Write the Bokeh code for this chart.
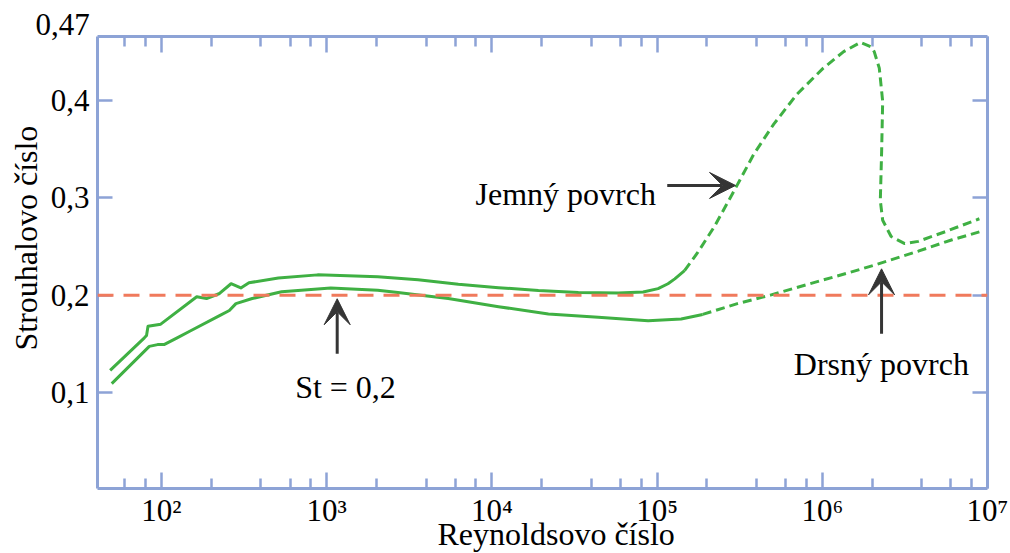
import math
from bokeh.plotting import figure
from bokeh.models import (FixedTicker, LogAxis, LinearAxis, Span, Label, Arrow,
                          VeeHead, Range1d, Title)
from bokeh.embed import file_html
from bokeh.resources import INLINE

# ---------------- data ----------------
# Smooth surface (Jemný povrch) – solid part
smooth_solid_re = [48.9, 78.8, 81.2, 82.9, 99.0, 163.5, 187.4, 224.7, 263.7, 302.2,
                   338.5, 510, 881, 2038, 3573, 6266, 10975, 19130, 33370, 58160,
                   82330, 101400, 116400, 128000, 146600]
smooth_solid_st = [0.1228, 0.1562, 0.1586, 0.1681, 0.1702, 0.1983, 0.1965, 0.2017, 0.2117, 0.2074,
                   0.2127, 0.2175, 0.2208, 0.2188, 0.2157, 0.2112, 0.2077, 0.2047, 0.2027, 0.2022,
                   0.2032, 0.2067, 0.2117, 0.2167, 0.2251]
# Smooth surface – dashed part
smooth_dash_re = [146600, 176200, 221900, 292500, 385600, 508300, 701000, 1.014e6, 1.347e6,
                  1.705e6, 1.965e6, 2.062e6, 2.213e6, 2.320e6, 2.287e6, 2.245e6, 2.320e6,
                  2.610e6, 3.155e6, 3.811e6, 5.567e6, 8.928e6]
smooth_dash_st = [0.2251, 0.2438, 0.2702, 0.3071, 0.3449, 0.3755, 0.4061, 0.4330, 0.4500,
                  0.4595, 0.4551, 0.4500, 0.4330, 0.3990, 0.3480, 0.2970, 0.2769,
                  0.2602, 0.2529, 0.2552, 0.2652, 0.2784]
# Rough surface (Drsný povrch) – solid part
rough_solid_re = [50.0, 84.4, 94.7, 103.6, 124.4, 149.2, 224.7, 257.6, 282.3, 354.2,
                  533.5, 1058, 2038, 2699, 5445, 10975, 21990, 44050, 88250, 139900, 188800]
rough_solid_st = [0.1092, 0.1474, 0.1492, 0.1492, 0.1562, 0.1632, 0.1789, 0.1842, 0.1913, 0.1965,
                  0.2034, 0.2074, 0.2050, 0.2027, 0.1965, 0.1881, 0.1807, 0.1773, 0.1737, 0.1755, 0.1802]
# Rough surface – dashed part
rough_dash_re = [188800, 306200, 485000, 842500, 1.480e6, 2.161e6, 3.811e6, 6.113e6, 8.928e6]
rough_dash_st = [0.1802, 0.1913, 0.2000, 0.2117, 0.2235, 0.2318, 0.2451, 0.2569, 0.2649]

st_reference = 0.2

x_major_ticks = [1e2, 1e3, 1e4, 1e5, 1e6, 1e7]
x_major_labels = ["10²", "10³", "10⁴", "10⁵", "10⁶", "10⁷"]
x_minor_ticks = [60, 80,
                 200, 400, 600, 800,
                 2000, 4000, 6000, 8000,
                 2e4, 4e4, 6e4, 8e4,
                 2e5, 4e5, 6e5, 8e5,
                 2e6, 4e6, 6e6, 8e6]
y_ticks = [0.1, 0.2, 0.3, 0.4]
y_labels = ["0,1", "0,2", "0,3", "0,4"]
y_top_label = "0,47"

x_title = "Reynoldsovo číslo"
y_title = "Strouhalovo číslo"
label_smooth = "Jemný povrch"
label_rough = "Drsný povrch"
label_st = "St = 0,2"

# ---------------- styling ----------------
BLUE = "#8DA3D6"
GREEN = "#3FB043"
RED = "#F07A5C"
DARK = "#353535"
FONT = "Liberation Serif"

p = figure(width=1010, height=553, x_axis_type="log",
           x_range=Range1d(41, 1e7), y_range=Range1d(0.0015, 0.4655),
           output_backend="svg", toolbar_location=None,
           min_border_left=97, min_border_right=23, min_border_top=36, min_border_bottom=65)
p.background_fill_color = "white"
p.border_fill_color = "white"
p.outline_line_color = None
p.xgrid.visible = False
p.ygrid.visible = False

xticker = FixedTicker(ticks=x_major_ticks, minor_ticks=x_minor_ticks)
yticker = FixedTicker(ticks=y_ticks, minor_ticks=[])


def style_axis(ax, major_in, minor_in):
    ax.axis_line_color = BLUE
    ax.axis_line_width = 3
    ax.major_tick_line_color = BLUE
    ax.major_tick_line_width = 2.5
    ax.minor_tick_line_color = BLUE
    ax.minor_tick_line_width = 2.5
    ax.major_tick_in = major_in
    ax.major_tick_out = 0
    ax.minor_tick_in = minor_in
    ax.minor_tick_out = 0
    ax.major_label_text_font = FONT
    ax.major_label_text_color = "black"
    ax.major_label_text_font_size = "31px"


xa = p.xaxis[0]
xa.ticker = xticker
style_axis(xa, 16, 10)
xa.major_label_overrides = {t: s for t, s in zip(x_major_ticks, x_major_labels)}
xa.major_label_standoff = 4

ya = p.yaxis[0]
ya.ticker = yticker
style_axis(ya, 15, 0)
ya.major_label_overrides = {t: s for t, s in zip(y_ticks, y_labels)}
ya.major_label_standoff = 8

top = LogAxis(ticker=xticker)
style_axis(top, 16, 10)
top.major_label_text_font_size = "8px"
top.major_label_text_color = None
top.major_label_standoff = 0
p.add_layout(top, "above")

right = LinearAxis(ticker=yticker)
style_axis(right, 15, 0)
right.major_label_text_font_size = "8px"
right.major_label_text_color = None
right.major_label_standoff = 0
p.add_layout(right, "right")

# axis titles and the top value label (outside the frame -> Title annotations)
def side_title(text, place, align, offset, standoff, size="32px"):
    p.add_layout(Title(text=text, align=align, offset=offset, standoff=standoff,
                       text_font=FONT, text_font_size=size, text_font_style="normal",
                       text_color="black"), place)

side_title(x_title, "below", "left", 340, -33)
side_title(y_title, "left", "left", 138, 7)
side_title(y_top_label, "above", "left", -62, 3, size="31px")

# reference line St = 0.2
p.add_layout(Span(location=st_reference, dimension="width", line_color=RED,
                  line_width=3, line_dash="16 10"))

# curves
p.line(smooth_solid_re, smooth_solid_st, line_color=GREEN, line_width=3, line_join="round")
p.line(smooth_dash_re, smooth_dash_st, line_color=GREEN, line_width=3, line_dash="9 5")
p.line(rough_solid_re, rough_solid_st, line_color=GREEN, line_width=3, line_join="round")
p.line(rough_dash_re, rough_dash_st, line_color=GREEN, line_width=3, line_dash="9 5")

# arrows
def arrow(x0, y0, x1, y1):
    p.add_layout(Arrow(end=VeeHead(size=26, fill_color=DARK, line_color=DARK, line_width=1),
                       x_start=x0, y_start=y0, x_end=x1, y_end=y1,
                       line_color=DARK, line_width=3))

arrow(1158, 0.1398, 1158, 0.1963)
arrow(115200, 0.3126, 298400, 0.3126)
arrow(2.284e6, 0.1603, 2.284e6, 0.2270)

# texts inside the frame
def label(x, y, text, align="left", size="32px"):
    p.add_layout(Label(x=x, y=y, text=text, text_font=FONT, text_font_size=size,
                       text_color="black", text_align=align, text_baseline="alphabetic"))

label(1300, 0.1055, label_st, align="center")
label(7962, 0.3040, label_smooth)
label(672600, 0.1295, label_rough)

open("out.html", "w").write(file_html(p, INLINE))
